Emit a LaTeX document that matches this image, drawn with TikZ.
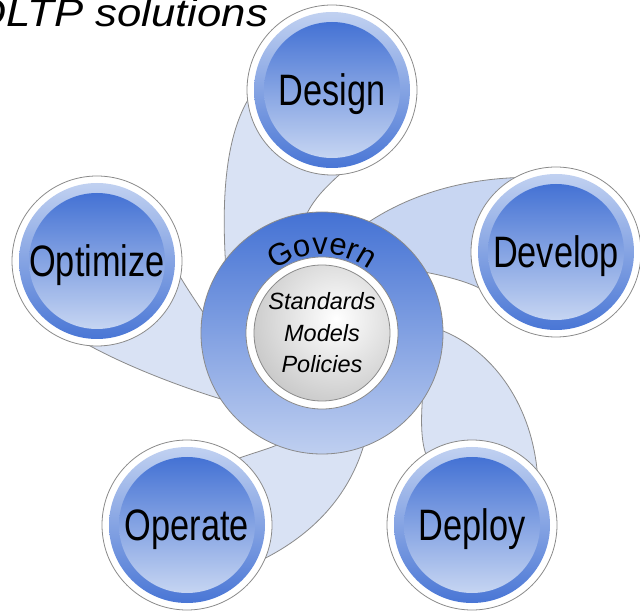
\documentclass[tikz,border=0pt]{standalone}
\usepackage{fontspec}
\setmainfont{Liberation Sans}
\newfontfamily\narrowfont[FakeStretch=0.78]{Liberation Sans}
\newfontfamily\titlefont[FakeStretch=1.12]{Liberation Sans Italic}
\usetikzlibrary{decorations.text}
\definecolor[named]{StageBlue}{HTML}{4472D4}
\definecolor[named]{StageLight}{HTML}{C6D5F2}
\definecolor[named]{HubLight}{HTML}{BFCFF0}
\definecolor[named]{ArmFill}{HTML}{D9E2F4}
\definecolor[named]{ArmDark}{HTML}{C8D6F2}
\definecolor[named]{EdgeGray}{HTML}{8A8A8A}
\definecolor[named]{CoreGray}{HTML}{A4A4A4}
\pgfdeclarelayer{arms}
\pgfsetlayers{arms,main}
\tikzset{
  stage/.style={circle,draw=EdgeGray,fill=white,line width=0.8pt,
    minimum size=170pt,inner sep=0pt,outer sep=0pt,
    text height=31.5pt,text depth=0pt,
    font=\narrowfont\fontsize{44}{50}\selectfont,
    path picture={
      \shade[top color=StageLight,bottom color=StageBlue]
        (path picture bounding box.center) circle (78pt);
      \shade[top color=StageBlue,bottom color=StageLight]
        (path picture bounding box.center) circle (68pt);
    }},
  hub/.style={circle,draw=EdgeGray,line width=0.8pt,
    minimum size=242pt,inner sep=0pt,outer sep=0pt,
    top color=StageBlue,bottom color=HubLight,
    align=center,font=\itshape\fontsize{23.5}{31.5}\selectfont,
    path picture={
      \fill[white,draw=EdgeGray,line width=0.8pt]
        (path picture bounding box.center) circle (76pt);
      \begin{scope}
        \clip (path picture bounding box.center) circle (68pt);
        \shade[inner color=white,outer color=CoreGray]
          ([xshift=14pt,yshift=14pt]path picture bounding box.center) circle (150pt);
      \end{scope}
      \draw[EdgeGray,line width=0.8pt]
        (path picture bounding box.center) circle (68pt);
    }},
  arm/.style={fill=ArmFill,draw=EdgeGray,line width=0.8pt},
}

\begin{document}
\begin{tikzpicture}[x=1pt,y=1pt]
  \useasboundingbox (0,0) rectangle (640,611);
  \node[anchor=base west,font=\titlefont\fontsize{39}{46}\selectfont]
    (title) at (-31,584) {OLTP solutions};

  \node[hub] (hub) at (322,278) {Standards\\Models\\Policies};
  \path[decorate,decoration={text along path,text align=center,
      text={|\fontsize{31}{37}\selectfont|Govern}}]
    ([shift={(138:79pt)}]hub.center) arc[start angle=138,end angle=42,radius=79pt];

  \node[stage] (design)   at (332,521) {Design};
  \node[stage] (develop)  at (556,359) {Develop};
  \node[stage] (deploy)   at (472,86)  {Deploy};
  \node[stage] (operate)  at (187,86)  {Operate};
  \node[stage] (optimize) at (97,350)  {Optimize};

  % swirl arms behind the circles
  \begin{pgfonlayer}{arms}
    \draw[arm] (hub.143) .. controls (222,411) and (225,471) .. (design.187)
      -- (design.center) -- (design.-85) .. controls (325,423) and (315,413) .. (hub.97)
      -- (hub.center) -- cycle;
    \draw[arm,fill=ArmDark] (hub.67) .. controls (410,416) and (460,431) .. (develop.119)
      -- (develop.center) -- (develop.205) .. controls (465,330) and (445,335) .. (hub.30)
      -- (hub.center) -- cycle;
    \draw[arm] (hub.1) .. controls (490,261) and (530,211) .. (deploy.40)
      -- (deploy.center) -- (deploy.123) .. controls (421,171) and (421,191) .. (hub.-34)
      -- (hub.center) -- cycle;
    \draw[arm] (hub.-70) .. controls (350,121) and (320,81) .. (operate.-23)
      -- (operate.center) -- (operate.52) .. controls (250,157) and (265,161) .. (hub.-112)
      -- (hub.center) -- cycle;
    \draw[arm] (hub.-147) .. controls (175,226) and (125,246) .. (optimize.-95)
      -- (optimize.center) -- (optimize.-11) .. controls (188,321) and (195,311) .. (hub.170)
      -- (hub.center) -- cycle;
  \end{pgfonlayer}
\end{tikzpicture}
\end{document}
